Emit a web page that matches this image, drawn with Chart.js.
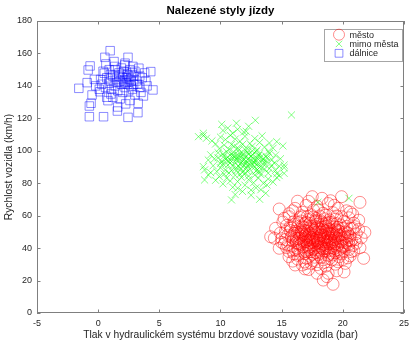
<!DOCTYPE html>
<html>
<head>
<meta charset="utf-8">
<script src="https://cdn.jsdelivr.net/npm/chart.js@4/dist/chart.umd.min.js"></script>
<style>
  html, body { margin: 0; padding: 0; background: #fff; }
  #wrap { width: 414px; height: 341px; position: relative; }
</style>
</head>
<body>
<div id="wrap"><canvas id="chart"></canvas></div>
<script>
// --- Data ---
const titleText = 'Nalezené styly jízdy';
const xTitle = 'Tlak v hydraulickém systému brzdové soustavy vozidla (bar)';
const yTitle = 'Rychlost vozidla (km/h)';
const seriesNames = ['město', 'mimo města', 'dálnice'];

const xTicks = [-5, 0, 5, 10, 15, 20, 25];
const yTicks = [0, 20, 40, 60, 80, 100, 120, 140, 160, 180];

// město (red circles)
const mesto = [
  [17.5,71.7],[18.3,70.7],[19.9,71.7],[21.4,68.2],[16.1,64.5],[19.6,64.5],[14.8,64.1],[17.0,66.3],[18.8,67.5],[16.7,62.1],
  [18.0,63.4],[19.2,61.8],[20.3,63.0],[17.4,60.6],[15.6,61.2],[16.3,68.9],[18.6,60.3],[20.8,60.9],[17.9,65.8],[19.0,69.2],
  [15.2,58.4],[15.6,59.4],[16.0,56.3],[16.5,58.9],[16.9,55.1],[17.2,57.7],[17.6,59.2],[17.9,54.6],[18.2,56.8],[18.5,58.1],
  [18.8,53.9],[19.1,55.7],[19.4,57.9],[19.8,54.3],[20.1,56.6],[20.5,58.7],[16.3,53.2],[16.8,52.6],[17.4,53.7],[17.7,56.0],
  [18.0,52.3],[18.4,54.9],[19.6,52.8],[20.3,53.4],[20.9,55.4],[14.5,52.2],[15.4,54.0],[21.3,57.2],[16.1,54.7],[17.1,59.6],
  [18.9,57.4],[19.3,53.1],[15.8,52.4],[17.0,55.9],[18.6,55.3],[19.9,59.4],[16.6,56.7],[17.8,58.2],[18.1,59.8],[20.6,52.1],
  [15.1,56.1],[21.0,53.2],
  [14.1,47.0],[14.4,46.1],[14.9,49.3],[15.3,45.2],[15.7,50.8],[16.0,47.6],[16.2,44.7],[16.4,51.3],[16.7,48.5],[16.9,45.9],
  [17.1,50.2],[17.3,47.1],[17.5,44.3],[17.7,49.6],[17.9,46.4],[18.1,51.6],[18.2,48.0],[18.4,45.4],[18.6,50.5],[18.8,47.3],
  [19.0,44.8],[19.2,49.1],[19.4,46.7],[19.6,51.0],[19.8,48.3],[20.0,45.6],[20.2,50.0],[20.4,47.2],[20.8,52.2],[20.7,44.6],
  [21.1,48.9],[21.5,46.3],[15.5,48.0],[16.5,46.2],[17.0,48.8],[17.6,47.9],[18.0,44.9],[18.3,49.8],[18.9,51.4],[19.3,45.1],
  [19.7,47.8],[16.3,49.4],[17.2,45.0],[17.8,51.9],[18.5,46.9],[19.1,48.2],[15.9,44.4],[16.8,51.0],[17.4,46.1],[18.7,44.2],
  [19.5,49.9],[20.1,48.6],[20.5,45.0],[15.0,45.8],[16.6,47.3],[17.6,45.5],[18.1,47.5],[18.9,49.6],[19.9,46.2],[17.0,44.0],
  [18.4,51.2],[21.8,49.7],[16.1,50.3],[19.0,46.0],[17.3,49.0],
  [14.8,39.9],[15.2,42.6],[15.6,37.9],[15.9,41.1],[16.2,43.4],[16.4,38.5],[16.7,40.8],[16.9,36.6],[17.1,42.2],[17.3,39.4],
  [17.6,43.7],[17.8,37.3],[18.0,40.5],[18.2,42.9],[18.5,38.1],[18.7,41.6],[18.9,36.8],[19.1,43.1],[19.3,39.8],[19.6,42.0],
  [19.8,37.6],[20.0,40.9],[20.3,43.2],[20.7,37.8],[21.1,43.0],[20.5,39.2],[16.0,36.4],[16.6,42.5],[17.4,41.0],[17.9,43.0],
  [18.3,36.9],[18.6,39.6],[19.2,41.5],[19.7,39.1],[15.4,40.3],[16.3,39.7],[17.0,38.0],[17.7,40.0],[18.4,41.9],[19.0,38.7],
  [19.9,43.8],[20.2,41.7],[21.4,40.2],[15.0,43.5],[16.8,43.9],[17.5,36.2],[18.8,43.5],[19.4,37.0],[20.9,38.5],[17.2,40.3],
  [18.1,38.8],[16.5,41.8],[18.5,42.4],[19.5,40.6],
  [15.6,34.7],[16.1,29.6],[16.7,29.6],[21.7,33.7],[20.2,30.6],[16.3,33.2],[16.9,31.5],[17.3,35.0],[17.6,32.3],[17.9,29.8],
  [18.2,34.1],[18.5,31.2],[18.8,35.5],[19.1,32.8],[19.4,30.1],[19.7,34.6],[20.0,33.0],[20.6,35.2],[17.0,33.8],[18.0,36.0],
  [18.6,28.9],[19.2,35.8],[15.9,32.0],[17.4,30.6],[20.4,34.0],
  [19.2,17.7],[18.7,22.4],[17.9,24.5],[18.8,24.5],[17.2,26.8],[19.5,26.0],[18.2,27.5],[16.9,27.2],[20.1,25.3],[18.4,20.3],
  [17.2,47.8],[17.5,46.6],[17.8,48.7],[18.1,46.0],[18.4,47.7],[18.7,46.4],[19.0,48.9],[17.3,43.3],[17.7,42.1],[18.0,43.8],
  [18.3,40.1],[18.6,45.7],[18.9,42.8],[19.2,44.0],[16.8,44.9],[16.5,48.1],[16.9,50.6],[17.4,51.5],[17.9,53.2],[18.3,52.8],
  [18.7,51.9],[19.1,50.7],[19.5,48.7],[19.8,44.2],[20.2,46.8],[16.2,46.0],[15.8,46.9],[16.4,43.0],[17.1,41.5],[17.6,39.1],
  [18.2,41.2],[18.8,40.0],[19.4,42.7],[19.9,41.2],[20.4,49.3],[20.6,47.4],[16.0,49.0],[16.7,53.6],[17.3,55.2],[17.8,57.0],
  [18.3,55.8],[18.9,56.0],[19.5,55.0],[20.0,52.0],[16.4,55.8],[15.7,53.3],[15.3,50.3],[15.5,42.0],[16.1,38.8],[16.8,37.6],
  [17.4,37.9],[18.0,37.9],[18.7,38.0],[19.3,38.2],[20.1,38.4],[20.5,42.3],[21.0,45.2],[21.3,51.5],[17.0,46.7],[17.6,50.8],
  [18.2,50.1],[18.8,48.9],[19.3,47.3],[19.6,45.9],[18.5,44.0],[17.9,44.7],[17.3,44.9],[16.9,47.5],[16.4,45.6],[19.7,50.4],
  [20.3,44.3],[17.5,52.6],[18.6,53.3],[19.4,51.6],[16.6,50.0],[17.2,39.0],[18.4,39.4],[19.0,40.3],[15.9,38.2],[20.8,41.5],
  [16.3,35.6],[17.7,34.4],[18.9,33.5],[19.9,36.5],[17.0,30.5],[18.4,32.8],[19.6,31.6],[16.6,59.9],[18.4,61.5],[17.6,63.5],
  [19.5,59.8],[20.6,62.2],[15.9,63.0],[19.3,66.4],[17.2,68.8]
];

// mimo města (green crosses)
const mimoMesta = [
  [15.8,122.1],[12.85,118.8],[8.6,109.3],[8.2,108.7],[8.85,107.7],[8.6,110.8],[15.1,103.0],[14.6,105.6],[8.7,88.2],[8.6,90.2],
  [9.0,85.1],[8.7,82.0],[10.9,69.7],[11.4,76.9],[13.8,78.9],[15.2,86.1],[15.2,91.2],[13.7,73.8],[12.5,75.8],[13.2,70.1],
  [17.96,68.2],[20.5,70.7],
  [10.2,112.5],[10.6,114.0],[11.0,110.8],[11.4,113.2],[11.9,111.6],[12.3,115.1],[10.0,108.4],[10.4,106.9],[10.8,109.5],[11.2,107.2],
  [11.6,105.8],[12.0,108.9],[12.4,104.5],[12.8,107.6],[13.2,105.1],[13.6,102.3],[14.0,104.8],[14.3,101.6],[9.6,104.2],[9.9,101.3],
  [10.3,103.5],[10.7,100.9],[11.1,102.7],[11.5,100.4],[11.8,103.9],[12.2,101.2],[12.6,102.9],[13.0,100.6],[13.4,109.2],[9.3,106.1],
  [12.1,112.0],[11.3,117.0],[10.1,116.3],
  [9.2,97.5],[9.5,95.0],[9.8,98.8],[10.1,93.6],[10.3,96.7],[10.5,99.4],[10.8,94.2],[11.0,97.1],[11.2,92.8],[11.4,95.9],
  [11.6,98.5],[11.8,93.4],[12.0,96.3],[12.2,99.1],[12.4,94.0],[12.6,97.6],[12.8,92.5],[13.0,95.5],[13.2,98.2],[13.4,93.8],
  [13.7,96.8],[13.9,99.6],[14.2,94.5],[14.5,97.3],[14.9,95.1],[10.0,92.2],[10.6,96.0],[11.1,99.0],[11.5,93.9],[11.9,97.8],
  [12.3,95.4],[12.7,93.1],[13.1,97.0],[13.5,95.0],[12.1,92.4],[11.3,94.6],[10.9,98.1],[12.5,96.5],[13.8,92.9],[9.0,94.3],
  [14.0,98.3],[11.7,96.9],[12.9,99.5],[10.4,94.8],[11.0,95.7],
  [9.4,90.8],[9.7,87.2],[10.0,89.5],[10.3,85.6],[10.6,91.2],[10.9,88.0],[11.2,84.9],[11.5,90.1],[11.8,86.7],[12.1,89.3],
  [12.3,84.4],[12.6,91.6],[12.9,87.5],[13.1,90.4],[13.3,85.3],[13.6,88.8],[13.9,86.2],[14.2,91.0],[14.5,87.9],[14.8,84.7],
  [9.9,84.1],[10.4,88.1],[11.0,90.7],[11.7,88.9],[12.0,86.0],[12.4,88.6],[12.8,85.0],[13.5,91.8],[14.0,89.0],[11.3,87.6],
  [10.7,86.3],[12.2,90.9],[13.0,88.2],[14.6,85.9],[15.2,89.6],[9.2,86.5],[11.9,91.3],[13.2,86.9],[10.2,91.9],
  [9.6,81.8],[10.2,79.6],[10.5,83.1],[11.0,77.5],[11.4,81.0],[11.7,83.6],[12.0,78.8],[12.3,82.2],[12.7,80.3],[13.1,83.2],
  [13.5,79.9],[13.9,82.6],[14.3,80.7],[11.8,74.9],[12.9,77.2],[10.8,81.4],[14.6,83.5],[12.5,72.6],[11.2,73.0],[13.3,76.0],
  [11.5,97.0],[11.9,94.8],[12.3,97.9],[12.7,95.1],[12.1,93.6],[11.2,96.4],[12.9,94.2],[13.3,96.2],[11.6,91.8],[12.4,91.5],
  [12.8,90.0],[11.3,89.5],[10.8,92.6],[10.6,93.8],[13.6,93.0],[13.0,92.2],[12.0,100.8],[11.4,101.9],[12.6,99.9],[10.9,103.8],
  [13.8,95.6],[14.4,92.4],[9.8,95.7],[10.2,98.0],[12.2,87.4],[11.6,85.5],[13.4,89.5],[14.8,90.5]
];

// dálnice (blue squares)
const dalnice = [
  [0.98,161.7],[0.55,157.6],[2.44,157.6],[-0.66,152.3],[-0.82,149.8],[0.63,153.5],[1.36,152.0],[2.17,152.9],[2.84,152.0],[3.33,150.9],
  [4.30,148.8],[-0.31,144.0],[0.5,147.8],[-1.58,138.5],[0.15,136.4],[-0.5,134.4],[-0.58,129.3],[-0.72,127.6],[-0.72,121.0],[0.44,121.0],
  [1.57,124.5],[2.44,120.6],[3.25,123.5],[2.25,128.9],[3.27,129.3],[3.7,133.8],[4.48,137.5],[3.41,139.1],[3.0,134.4],[0.8,130.9],
  [1.04,135.0],[0.09,137.9],[0.9,141.6],
  [1.2,146],[1.5,144],[1.8,143],[2.0,145],[2.3,142],[2.6,144],[2.9,146],[3.1,143],[1.7,148],[2.1,149],
  [2.4,147],[2.7,140],[2.2,139],[1.9,141],[1.4,140],[1.0,143],[0.7,145],[1.6,137],[2.5,137],[2.8,138],
  [3.2,141],[3.6,145],[3.8,148],[0.4,149],[0.9,150],[1.3,155],[1.9,151],[2.6,150],[3.0,149],[2.0,136],
  [1.1,138],[0.3,141],[2.3,145],[2.1,143],[1.7,146],[2.7,143],[2.4,141],[1.5,142],[2.9,141],[3.4,146],
  [1.2,133],[2.6,131],[1.8,132],[0.6,139],[3.5,136],[1.0,147],[2.2,154],[0.2,144],[4.0,140],[1.6,127],
  [-0.2,140],[2.0,147],[2.5,146],[2.8,148],[1.4,150],[3.9,143],[-0.9,142],[0.7,133]
];

// --- Style ---
const FONT = "'Liberation Sans', Arial, Helvetica, sans-serif";
const COLORS = {
  mesto: 'rgba(255, 0, 0, 0.45)',
  mimo: 'rgba(0, 255, 0, 0.5)',
  dalnice: 'rgba(0, 0, 255, 0.45)',
  axis: '#7f7f7f',
  text: '#262626'
};
const MARKERS = {
  styles: ['circle', 'crossRot', 'rect'],
  radii: [6, 5, 6],
  colors: [COLORS.mesto, COLORS.mimo, COLORS.dalnice]
};

const toPoints = arr => arr.map(([x, y]) => ({ x, y }));

// Box, inward ticks, titles and legend drawn MATLAB-like
const matlabFrame = {
  id: 'matlabFrame',
  beforeDatasetsDraw(chart) {
    const { ctx, chartArea: a, scales } = chart;
    ctx.save();
    ctx.strokeStyle = COLORS.axis;
    ctx.lineWidth = 1;
    ctx.strokeRect(a.left + 0.5, a.top + 0.5, a.right - a.left - 1, a.bottom - a.top - 1);
    ctx.beginPath();
    xTicks.forEach(v => {
      const px = Math.round(scales.x.getPixelForValue(v)) + 0.5;
      ctx.moveTo(px, a.bottom); ctx.lineTo(px, a.bottom - 3.5);
      ctx.moveTo(px, a.top); ctx.lineTo(px, a.top + 3.5);
    });
    yTicks.forEach(v => {
      const py = Math.round(scales.y.getPixelForValue(v)) + 0.5;
      ctx.moveTo(a.left, py); ctx.lineTo(a.left + 3.5, py);
      ctx.moveTo(a.right, py); ctx.lineTo(a.right - 3.5, py);
    });
    ctx.stroke();
    ctx.restore();
  },
  afterDraw(chart) {
    const { ctx, chartArea: a } = chart;
    ctx.save();
    // title
    ctx.fillStyle = '#000';
    ctx.font = `bold 11.5px ${FONT}`;
    ctx.textAlign = 'center';
    ctx.textBaseline = 'middle';
    ctx.fillText(titleText, (a.left + a.right) / 2, 11);
    // axis titles
    ctx.fillStyle = COLORS.text;
    ctx.font = `10.3px ${FONT}`;
    ctx.fillText(xTitle, (a.left + a.right) / 2, 335);
    ctx.save();
    ctx.translate(9, (a.top + a.bottom) / 2);
    ctx.rotate(-Math.PI / 2);
    ctx.fillText(yTitle, 0, 0);
    ctx.restore();

    // legend
    const lx = 324.5, ly = 29.5, lw = 78, lh = 32;
    ctx.fillStyle = '#fff';
    ctx.fillRect(lx, ly, lw, lh);
    ctx.strokeStyle = '#a6a6a6';
    ctx.lineWidth = 1;
    ctx.strokeRect(lx, ly, lw, lh);
    const rows = [34.7, 43.9, 53.3];
    rows.forEach((y, i) => {
      ctx.fillStyle = 'rgba(0,0,0,0)';
      ctx.strokeStyle = MARKERS.colors[i];
      ctx.lineWidth = 1;
      Chart.helpers.drawPoint(ctx, {
        pointStyle: MARKERS.styles[i], radius: MARKERS.radii[i] - 0.5, borderWidth: 1
      }, 339, y);
      ctx.fillStyle = COLORS.text;
      ctx.font = `9px ${FONT}`;
      ctx.textAlign = 'left';
      ctx.textBaseline = 'middle';
      ctx.fillText(seriesNames[i], 349.5, y + 0.5);
    });
    ctx.restore();
  }
};

const ds = (i, data, order) => ({
  label: seriesNames[i],
  data: toPoints(data),
  pointStyle: MARKERS.styles[i],
  pointRadius: MARKERS.radii[i],
  pointHoverRadius: MARKERS.radii[i],
  pointBorderWidth: 1,
  borderColor: MARKERS.colors[i],
  backgroundColor: 'rgba(0,0,0,0)',
  order
});

new Chart(document.getElementById('chart'), {
  type: 'scatter',
  data: {
    datasets: [
      ds(0, mesto, 3),
      ds(1, mimoMesta, 2),
      ds(2, dalnice, 1)
    ]
  },
  options: {
    responsive: true,
    maintainAspectRatio: false,
    animation: false,
    events: [],
    layout: { padding: { top: 21, right: 6, left: 0, bottom: 0 } },
    plugins: {
      legend: { display: false },
      title: { display: false },
      tooltip: { enabled: false }
    },
    scales: {
      x: {
        type: 'linear',
        min: xTicks[0],
        max: xTicks[xTicks.length - 1],
        afterBuildTicks: s => { s.ticks = xTicks.map(v => ({ value: v })); },
        afterFit: s => { s.height = 28; },
        grid: { display: false, drawTicks: false },
        border: { display: false },
        ticks: { padding: 5, color: COLORS.text, font: { family: FONT, size: 9 }, maxRotation: 0 }
      },
      y: {
        type: 'linear',
        min: yTicks[0],
        max: yTicks[yTicks.length - 1],
        afterBuildTicks: s => { s.ticks = yTicks.map(v => ({ value: v })); },
        afterFit: s => { s.width = 37; },
        grid: { display: false, drawTicks: false },
        border: { display: false },
        ticks: { padding: 5, color: COLORS.text, font: { family: FONT, size: 9 } }
      }
    }
  },
  plugins: [matlabFrame]
});
</script>
</body>
</html>
